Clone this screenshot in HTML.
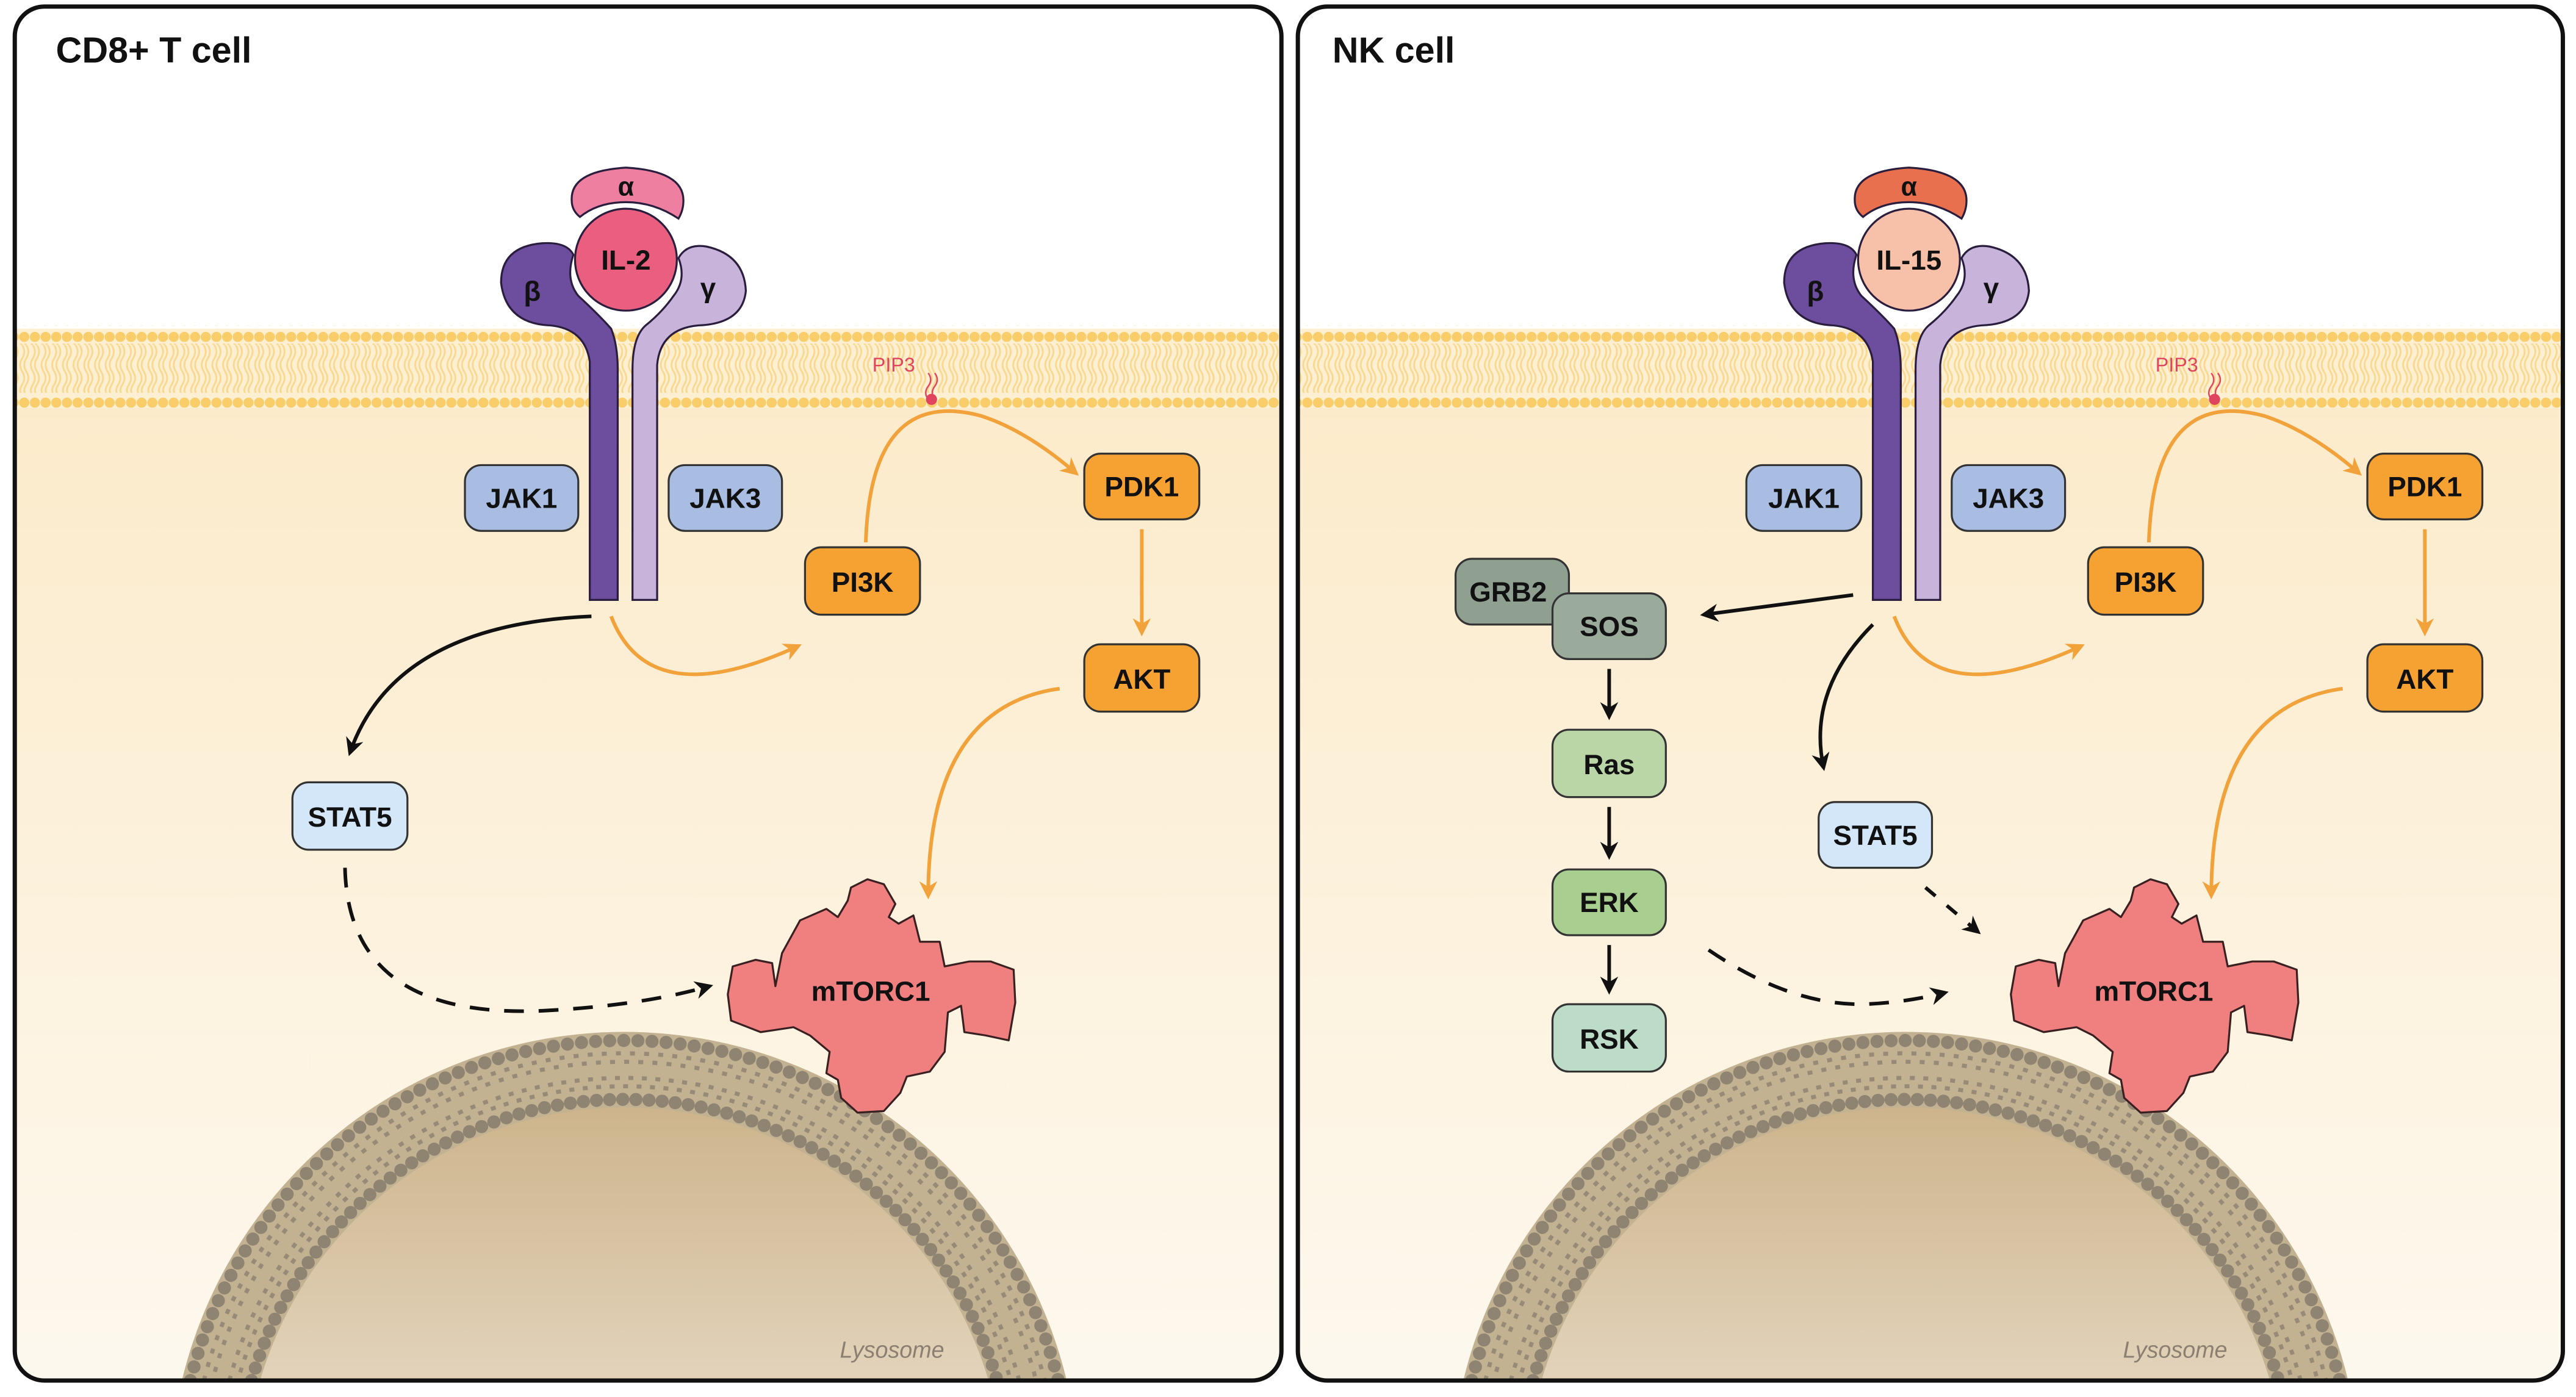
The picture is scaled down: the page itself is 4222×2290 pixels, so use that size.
<!DOCTYPE html>
<html><head><meta charset="utf-8"><style>
html,body{margin:0;padding:0;background:#fff;width:4222px;height:2290px;overflow:hidden;}
svg{display:block;}
text{font-family:"Liberation Sans","DejaVu Sans",sans-serif;}
</style></head><body>
<svg width="4222" height="2290" viewBox="0 0 1568 850" preserveAspectRatio="none" xmlns="http://www.w3.org/2000/svg">
<defs>
<linearGradient id="cyto" x1="0" y1="0" x2="0" y2="1">
<stop offset="0" stop-color="#fcebcb"/><stop offset="1" stop-color="#fdf8ee"/>
</linearGradient>
<linearGradient id="lumen" x1="0" y1="0" x2="0" y2="1">
<stop offset="0" stop-color="#cdb48c"/><stop offset="1" stop-color="#e2d3bb"/>
</linearGradient>
<pattern id="heads" x="0" y="0" width="6.5" height="10" patternUnits="userSpaceOnUse">
<circle cx="3.25" cy="5" r="3.1" fill="#f8cd6a"/>
</pattern>
<pattern id="tails" x="0" y="0" width="6.5" height="30" patternUnits="userSpaceOnUse">
<path d="M2 0 Q4.5 4 2 8 Q-0.5 12 2 16 Q4.5 20 2 24 Q-0.5 28 2 30" stroke="#f9d891" stroke-width="1.1" fill="none"/>
<path d="M4.5 0 Q7 4 4.5 8 Q2 12 4.5 16 Q7 20 4.5 24 Q2 28 4.5 30" stroke="#f9d891" stroke-width="1.1" fill="none"/>
</pattern>
<marker id="ab" viewBox="0 0 10 10" refX="8" refY="5" markerWidth="5" markerHeight="5" orient="auto"><path d="M0 0 L10 5 L0 10 L3 5 Z" fill="#111"/></marker>
<marker id="ao" viewBox="0 0 10 10" refX="8" refY="5" markerWidth="5" markerHeight="5" orient="auto"><path d="M0 0 L10 5 L0 10 L3 5 Z" fill="#f2a23a"/></marker>
<clipPath id="cl"><rect x="9" y="4" width="771" height="836" rx="18"/></clipPath>
<clipPath id="cr"><rect x="790" y="4" width="770" height="836" rx="18"/></clipPath>
<g id="mem">
<rect x="0" y="248" width="775" height="592" fill="url(#cyto)"/>
<rect x="0" y="200" width="775" height="48" fill="#fdf0d2"/>
<rect x="0" y="209" width="775" height="30" fill="url(#tails)"/>
<rect x="0" y="198" width="775" height="10" fill="url(#heads)"/>
<rect x="0" y="238" width="775" height="10" fill="url(#heads)"/>
</g>
<g id="lyso">
<path d="M-269.3,840 A277,277 0 0 1 269.3,840 Z" fill="#c2b292"/>
<path d="M-264.1,840 A272,272 0 0 1 264.1,840" fill="none" stroke="#8f8472" stroke-width="8" stroke-dasharray="0 8.6" stroke-linecap="round"/>
<path d="M-255.9,840 A264,264 0 0 1 255.9,840" fill="none" stroke="#978b77" stroke-width="2.5" stroke-dasharray="3 5.6"/>
<path d="M-250.7,840 A259,259 0 0 1 250.7,840" fill="none" stroke="#978b77" stroke-width="2.5" stroke-dasharray="3 5.6" stroke-dashoffset="3"/>
<path d="M-240.4,840 A249,249 0 0 1 240.4,840" fill="none" stroke="#978b77" stroke-width="2.5" stroke-dasharray="3 5.2"/>
<path d="M-235.2,840 A244,244 0 0 1 235.2,840" fill="none" stroke="#978b77" stroke-width="2.5" stroke-dasharray="3 5.2" stroke-dashoffset="3"/>
<path d="M-226.9,840 A236,236 0 0 1 226.9,840" fill="none" stroke="#8f8472" stroke-width="8" stroke-dasharray="0 8" stroke-linecap="round"/>
<path d="M-221.7,840 A231,231 0 0 1 221.7,840 Z" fill="url(#lumen)"/>
</g>
<path id="mtor" d="M476,580 L487,560 503,553 510,558 516,548 518,540 528,535 538,538 545,550 541,558 547,562 556,557 560,573 572,573 575,588 590,585 603,585 617,590 618,610 614,633 600,630 587,628 585,612 577,616 575,640 566,652 552,655 548,665 538,676 522,677 512,668 510,657 503,653 505,640 493,630 483,625 463,628 445,621 443,605 446,588 460,584 470,586 472,600 Z" fill="#f08080" stroke="#3a2020" stroke-width="1.2" stroke-linejoin="round"/>
<g id="rec">
<path d="M359,365 L359,220 Q356,200 335,198 Q308,197 305,172 Q305,150 330,148 Q345,147 349,155 Q344,170 352,180 Q365,192 372,200 Q376,210 376,225 L376,365 Z" fill="#6c4d9e" stroke="#2a1d3d" stroke-width="1.2"/>
<path d="M385,365 L385,225 Q385,205 393,198 Q403,190 410,180 Q418,170 413,157 Q418,148 430,150 Q453,155 454,177 Q452,197 425,198 Q402,200 400,222 L400,365 Z" fill="#c8b4da" stroke="#2a1d3d" stroke-width="1.2"/>
<path d="M348,122 Q347,104 381,102 Q416,104 416,122 Q416,128 413,133 Q398,123 381,123 Q364,123 353,132 Q348,128 348,122 Z" stroke="#2a1d3d" stroke-width="1.2"/>
</g>
</defs>

<g clip-path="url(#cl)">
<rect x="9" y="4" width="771" height="836" fill="#fff"/>
<use href="#mem" x="5"/>
<use href="#lyso" x="380"/>
</g>
<rect x="9" y="4" width="771" height="836" rx="18" fill="none" stroke="#111" stroke-width="2.6"/>
<text x="34" y="38" font-size="22" font-weight="bold" fill="#111">CD8+ T cell</text>
<text x="543" y="826" font-size="14" font-style="italic" fill="#8a7f70" text-anchor="middle">Lysosome</text>

<g clip-path="url(#cr)">
<rect x="790" y="4" width="770" height="836" fill="#fff"/>
<use href="#mem" x="786"/>
<use href="#lyso" x="1160"/>
</g>
<rect x="790" y="4" width="770" height="836" rx="18" fill="none" stroke="#111" stroke-width="2.6"/>
<text x="811" y="38" font-size="22" font-weight="bold" fill="#111">NK cell</text>
<text x="1324" y="826" font-size="14" font-style="italic" fill="#8a7f70" text-anchor="middle">Lysosome</text>

<use href="#rec" fill="#ee7fa1"/>
<circle cx="381" cy="158" r="31" fill="#ea5f80" stroke="#2a1d3d" stroke-width="1.2"/>
<text x="381" y="119" font-size="16" font-weight="bold" text-anchor="middle" fill="#111">α</text>
<text x="381" y="164" font-size="17" font-weight="bold" text-anchor="middle" fill="#111">IL-2</text>
<text x="324" y="183" font-size="17" font-weight="bold" text-anchor="middle" fill="#111">β</text>
<text x="431" y="181" font-size="17" font-weight="bold" text-anchor="middle" fill="#111">γ</text>
<use href="#rec" x="781" fill="#e8704f"/>
<circle cx="1162" cy="158" r="31" fill="#f7c0a8" stroke="#2a1d3d" stroke-width="1.2"/>
<text x="1162" y="119" font-size="16" font-weight="bold" text-anchor="middle" fill="#111">α</text>
<text x="1162" y="164" font-size="17" font-weight="bold" text-anchor="middle" fill="#111">IL-15</text>
<text x="1105" y="183" font-size="17" font-weight="bold" text-anchor="middle" fill="#111">β</text>
<text x="1212" y="181" font-size="17" font-weight="bold" text-anchor="middle" fill="#111">γ</text>

<text x="531" y="226" font-size="12" fill="#e04560">PIP3</text>
<path d="M565,227 q3,4 0,8 q-3,4 0,8 M569,227 q3,4 0,8 q-3,4 0,8" stroke="#e04560" stroke-width="0.9" fill="none"/>
<circle cx="567" cy="243" r="3.4" fill="#e04560"/>
<text x="1312" y="226" font-size="12" fill="#e04560">PIP3</text>
<path d="M1346,227 q3,4 0,8 q-3,4 0,8 M1350,227 q3,4 0,8 q-3,4 0,8" stroke="#e04560" stroke-width="0.9" fill="none"/>
<circle cx="1348" cy="243" r="3.4" fill="#e04560"/>

<g font-size="17" font-weight="bold" text-anchor="middle" fill="#111" stroke-width="1.2">
<rect x="283" y="283" width="69" height="40" rx="10" fill="#a9bde2" stroke="#333"/><text x="317.5" y="309" stroke="none">JAK1</text>
<rect x="407" y="283" width="69" height="40" rx="10" fill="#a9bde2" stroke="#333"/><text x="441.5" y="309" stroke="none">JAK3</text>
<rect x="490" y="333" width="70" height="41" rx="10" fill="#f5a233" stroke="#333"/><text x="525" y="360" stroke="none">PI3K</text>
<rect x="660" y="276" width="70" height="40" rx="10" fill="#f5a233" stroke="#333"/><text x="695" y="302" stroke="none">PDK1</text>
<rect x="660" y="392" width="70" height="41" rx="10" fill="#f5a233" stroke="#333"/><text x="695" y="419" stroke="none">AKT</text>
<rect x="178" y="476" width="70" height="41" rx="10" fill="#d4e7f8" stroke="#333"/><text x="213" y="503" stroke="none">STAT5</text>
<rect x="1063" y="283" width="70" height="40" rx="10" fill="#a9bde2" stroke="#333"/><text x="1098" y="309" stroke="none">JAK1</text>
<rect x="1188" y="283" width="69" height="40" rx="10" fill="#a9bde2" stroke="#333"/><text x="1222.5" y="309" stroke="none">JAK3</text>
<rect x="1271" y="333" width="70" height="41" rx="10" fill="#f5a233" stroke="#333"/><text x="1306" y="360" stroke="none">PI3K</text>
<rect x="1441" y="276" width="70" height="40" rx="10" fill="#f5a233" stroke="#333"/><text x="1476" y="302" stroke="none">PDK1</text>
<rect x="1441" y="392" width="70" height="41" rx="10" fill="#f5a233" stroke="#333"/><text x="1476" y="419" stroke="none">AKT</text>
<rect x="1107" y="488" width="69" height="40" rx="10" fill="#d4e7f8" stroke="#333"/><text x="1141.5" y="514" stroke="none">STAT5</text>
<rect x="886" y="340" width="69" height="40" rx="10" fill="#8fa090" stroke="#333"/><text x="918" y="366" stroke="none">GRB2</text>
<rect x="945" y="361" width="69" height="40" rx="10" fill="#9aab9b" stroke="#333"/><text x="979.5" y="387" stroke="none">SOS</text>
<rect x="945" y="444" width="69" height="41" rx="10" fill="#bad6a6" stroke="#333"/><text x="979.5" y="471" stroke="none">Ras</text>
<rect x="945" y="529" width="69" height="40" rx="10" fill="#a9cf90" stroke="#333"/><text x="979.5" y="555" stroke="none">ERK</text>
<rect x="945" y="611" width="69" height="41" rx="10" fill="#bcdcc8" stroke="#333"/><text x="979.5" y="638" stroke="none">RSK</text>
</g>

<use href="#mtor"/>
<text x="530" y="609" font-size="17" font-weight="bold" text-anchor="middle" fill="#111">mTORC1</text>
<use href="#mtor" x="781"/>
<text x="1311" y="609" font-size="17" font-weight="bold" text-anchor="middle" fill="#111">mTORC1</text>

<g fill="none" stroke-width="2.2">
<path d="M360,375 Q240,380 213,458" stroke="#111" marker-end="url(#ab)"/>
<path d="M372,375 Q395,435 486,393" stroke="#f2a23a" marker-end="url(#ao)"/>
<path d="M527,330 Q530,235 597,253 Q625,262 655,288" stroke="#f2a23a" marker-end="url(#ao)"/>
<path d="M695,322 L695,385" stroke="#f2a23a" marker-end="url(#ao)"/>
<path d="M645,419 Q565,430 565,545" stroke="#f2a23a" marker-end="url(#ao)"/>
<path d="M210,528 Q212,620 330,615 Q390,612 432,600" stroke="#111" stroke-dasharray="12 9" marker-end="url(#ab)"/>
<path d="M1128,362 L1037,374" stroke="#111" marker-end="url(#ab)"/>
<path d="M1140,380 Q1100,420 1110,467" stroke="#111" marker-end="url(#ab)"/>
<path d="M1153,375 Q1176,435 1267,393" stroke="#f2a23a" marker-end="url(#ao)"/>
<path d="M1308,330 Q1311,235 1378,253 Q1406,262 1436,288" stroke="#f2a23a" marker-end="url(#ao)"/>
<path d="M1476,322 L1476,385" stroke="#f2a23a" marker-end="url(#ao)"/>
<path d="M1426,419 Q1346,430 1346,545" stroke="#f2a23a" marker-end="url(#ao)"/>
<path d="M979.5,407 L979.5,436" stroke="#111" marker-end="url(#ab)"/>
<path d="M979.5,491 L979.5,521" stroke="#111" marker-end="url(#ab)"/>
<path d="M979.5,575 L979.5,603" stroke="#111" marker-end="url(#ab)"/>
<path d="M1040,578 Q1090,612 1135,611 Q1160,610 1184,604" stroke="#111" stroke-dasharray="12 9" marker-end="url(#ab)"/>
<path d="M1172,540 L1204,567" stroke="#111" stroke-dasharray="8 9" marker-end="url(#ab)"/>
</g>
</svg>
</body></html>
